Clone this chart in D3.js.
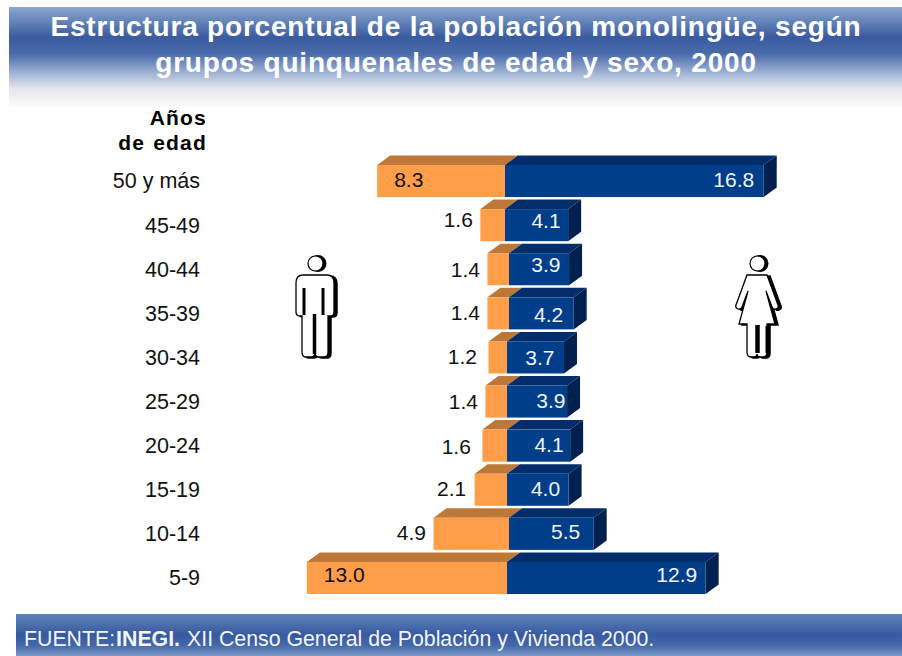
<!DOCTYPE html>
<html>
<head>
<meta charset="utf-8">
<script src="https://cdn.jsdelivr.net/npm/d3@7"></script>
<style>
html, body {margin: 0; padding: 0; background: #fff;}
svg {display: block;}
text {font-family: "Liberation Sans", Arial, sans-serif;}
</style>
</head>
<body>
<div id="chart"></div>
<script>
// Data, top row first
var edades = ["50 y más", "45-49", "40-44", "35-39", "30-34", "25-29", "20-24", "15-19", "10-14", "5-9"];
var hombres = [8.3, 1.6, 1.4, 1.4, 1.2, 1.4, 1.6, 2.1, 4.9, 13.0];
var mujeres = [16.8, 4.1, 3.9, 4.2, 3.7, 3.9, 4.1, 4.0, 5.5, 12.9];
// the two halves do not meet on one straight line in the picture (percent units)
var corrimiento = [0, 0, 0.26, 0.26, 0.13, 0.13, 0.13, 0.13, 0.26, 0.13];

var tituloLineas = ["Estructura porcentual de la población monolingüe, según", "grupos quinquenales de edad y sexo, 2000"];

// Plotting vars
var width = 902, height = 656;
var depthX = 13, depthY = 9.5;

// Labels were placed by hand in the original
var nudgeH = [[0, -1], [-1, -5], [-1, 0], [-1, -1], [-5, -1], [-1, 0], [-5, 1], [-2, -1], [-1, -1], [0, -3]];
var nudgeM = [[-1, -1], [1, -4], [0, -5], [-2, 1], [-1, 0], [7, -1], [2, -1], [0, -1], [-5, -2], [0, -3]];

var svg = d3.select("#chart")
.append("svg")
    .attr("width", width)
    .attr("height", height);

// Banner gradients
var defs = svg.append("defs");

function addGradient(id, stops) {
    var g = defs.append("linearGradient")
        .attr("id", id)
        .attr("x1", 0).attr("y1", 0).attr("x2", 0).attr("y2", 1);
    stops.forEach(function(s) {
        g.append("stop").attr("offset", s[0]).attr("stop-color", s[1]);
    });
}

addGradient("gradTop", [[0, "#8CA6CE"], [0.1, "#6F8EBF"], [0.3, "#3A5B9F"], [0.46, "#4A6BAB"], [0.62, "#93A9CE"], [0.8, "#E4E6EC"], [0.92, "#F4F4F5"], [1, "#FFFFFF"]]);
addGradient("gradBottom", [[0, "#5F83BB"], [0.5, "#37599F"], [0.75, "#4568A9"], [1, "#7C98C7"]]);

svg.append("rect")
    .attr("x", 9).attr("y", 7)
    .attr("width", width - 9).attr("height", 102)
    .attr("fill", "url(#gradTop)");

svg.append("rect")
    .attr("x", 16).attr("y", 614)
    .attr("width", width - 16).attr("height", 42)
    .attr("fill", "url(#gradBottom)");

// Title
svg.selectAll("text.titulo")
    .data(tituloLineas)
    .enter()
    .append("text")
    .attr("class", "titulo")
    .attr("x", 456)
    .attr("y", function(d, i) {return 36 + i * 35.5})
    .attr("text-anchor", "middle")
    .attr("fill", "#fff")
    .style("font-size", "28px")
    .style("font-weight", "bold")
    .style("letter-spacing", "0.8px")
    .text(function(d) {return d});

// Scales
var x = d3.scaleLinear()
    .domain([-14, 18])
    .range([505 - 14 * 15.4, 505 + 18 * 15.4]);

var y = d3.scaleBand()
    .domain(edades)
    .range([165, 594])
    .paddingInner(0.273);

// Age axis
var yAxis = d3.axisLeft(y).tickSize(0).tickPadding(0);

var gy = svg.append("g")
    .attr("transform", "translate(200,0.5)")
    .call(yAxis);
gy.select(".domain").remove();
gy.selectAll("text")
    .attr("fill", "#111")
    .style("font-size", "21.5px")
    .style("font-family", '"Liberation Sans", Arial, sans-serif');

svg.selectAll("text.anios")
    .data(["Años", "de edad"])
    .enter()
    .append("text")
    .attr("class", "anios")
    .attr("x", 207)
    .attr("y", function(d, i) {return 125 + i * 25})
    .attr("text-anchor", "end")
    .attr("fill", "#000")
    .style("font-size", "21px")
    .style("font-weight", "bold")
    .style("letter-spacing", "1.2px")
    .style("word-spacing", "1px")
    .text(function(d) {return d});

// Bars
var rows = edades.map(function(e, i) {
    return {edad: e, h: hombres[i], m: mujeres[i], c: corrimiento[i], i: i};
});

function poly(pts) {
    return "M" + pts.map(function(p) {return p[0] + "," + p[1]}).join("L") + "Z";
}

var row = svg.selectAll("g.row")
    .data(rows)
    .enter()
    .append("g")
    .attr("class", "row");

row.each(function(d) {
    var g = d3.select(this);
    var left = x(d.c - d.h), mid = x(d.c), right = x(d.c + d.m);
    var top = y(d.edad), bw = y.bandwidth();

    g.append("path")
        .attr("d", poly([[left, top], [left + depthX, top - depthY], [mid + depthX, top - depthY], [mid, top]]))
        .attr("fill", "#BD7838");
    g.append("rect")
        .attr("x", left).attr("y", top)
        .attr("width", mid - left).attr("height", bw)
        .attr("fill", "#FF9D48");

    g.append("path")
        .attr("d", poly([[mid, top], [mid + depthX, top - depthY], [right + depthX, top - depthY], [right, top]]))
        .attr("fill", "#032D6A");
    g.append("path")
        .attr("d", poly([[right, top], [right + depthX, top - depthY], [right + depthX, top + bw - depthY], [right, top + bw]]))
        .attr("fill", "#00204F");
    g.append("rect")
        .attr("x", mid).attr("y", top)
        .attr("width", right - mid).attr("height", bw)
        .attr("fill", "#003E8A");

    // the two long male bars carry their value inside
    var inside = d.h > 8;
    var nh = nudgeH[d.i], nm = nudgeM[d.i];
    g.append("text")
        .attr("x", (inside ? left + 17 : left - 6.5) + nh[0])
        .attr("y", top + bw / 2 + nh[1])
        .attr("dy", "0.35em")
        .attr("text-anchor", inside ? "start" : "end")
        .attr("fill", "#111")
        .style("font-size", "21px")
        .text(d.h.toFixed(1));
    g.append("text")
        .attr("x", right - 8.5 + nm[0])
        .attr("y", top + bw / 2 + nm[1])
        .attr("dy", "0.35em")
        .attr("text-anchor", "end")
        .attr("fill", "#F0F4FA")
        .style("font-size", "21px")
        .text(d.m.toFixed(1));
});

// Figures
var manBody = "M303,275 H327 Q334,275 334,283 V312 Q334,316 330,316 H328 V352 Q328,357 324,357 H319 Q316,357 315,354 Q314,357 311,357 H306 Q302,357 302,352 V316 H300 Q296,316 296,312 V283 Q296,275 303,275 Z";
var womanBody = "M747,275 H767 L778,305 Q779,308 776,309 Q773,310 772,307 L766,291 L775,324 H767 V352 Q767,357 763,357 H760 Q757,357 757,354 Q757,357 754,357 H751 Q747,357 747,352 V324 H739 L748,291 L742,307 Q741,310 738,309 Q735,308 736,305 Z";

function drawFigure(bodyPath, cx, slits) {
    var fig = svg.append("g");
    fig.append("path")
        .attr("d", bodyPath)
        .attr("transform", "translate(3,1)")
        .attr("fill", "#000")
        .attr("stroke", "#000")
        .attr("stroke-width", 1.5);
    fig.append("circle")
        .attr("cx", cx + 2).attr("cy", 263.5).attr("r", 8.5)
        .attr("fill", "#000");
    fig.append("path")
        .attr("d", bodyPath)
        .attr("fill", "#fff")
        .attr("stroke", "#000")
        .attr("stroke-width", 1.3);
    fig.append("circle")
        .attr("cx", cx - 0.5).attr("cy", 263.5).attr("r", 7.5)
        .attr("fill", "#fff")
        .attr("stroke", "#000")
        .attr("stroke-width", 1.2);
    slits.forEach(function(s) {
        fig.append("line")
            .attr("x1", s[0]).attr("y1", s[1])
            .attr("x2", s[2]).attr("y2", s[3])
            .attr("stroke", "#000")
            .attr("stroke-width", s[4]);
    });
}

drawFigure(manBody, 316, [[304, 288, 304, 315, 3], [323, 288, 323, 315, 3], [314.5, 314, 314.5, 354, 3.5]]);
drawFigure(womanBody, 758, [[757.5, 325, 757.5, 353, 4.5], [767, 326, 767, 353, 3]]);

// Source line
var fuente = svg.append("text")
    .attr("x", 24)
    .attr("y", 646)
    .attr("fill", "#F2F5FA")
    .style("font-size", "21.3px");
fuente.append("tspan").text("FUENTE:");
fuente.append("tspan").attr("dx", 1).style("font-weight", "bold").text("INEGI.");
fuente.append("tspan").attr("dx", 7).text("XII Censo General de Población y Vivienda 2000.");
</script>
</body>
</html>
